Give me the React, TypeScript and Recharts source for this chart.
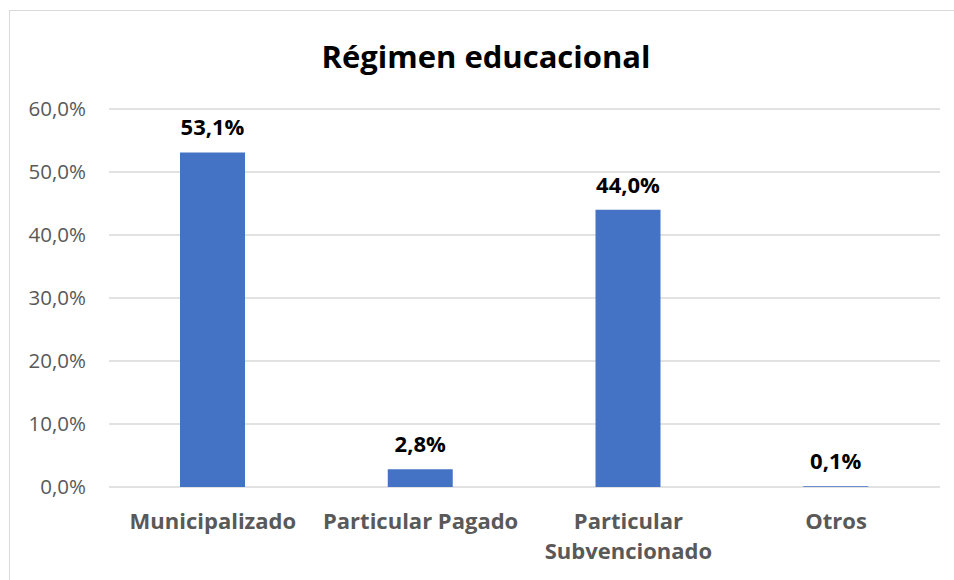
import { BarChart, Bar, XAxis, YAxis, CartesianGrid, LabelList } from "recharts";

const categories = ["Municipalizado", "Particular Pagado", "Particular Subvencionado", "Otros"];
const shares = [0.531, 0.028, 0.44, 0.001];
const yTicks = [0, 0.1, 0.2, 0.3, 0.4, 0.5, 0.6];

const data = categories.map((name, i) => ({ name, value: shares[i] }));

const FONT = "'Open Sans', Lato, sans-serif";

const pct = (v: number) => (v * 100).toFixed(1).replace(".", ",") + "%";

// greedy wrap on word boundaries, like Excel does for long category names
const wrap = (s: string, maxChars = 18) => {
	const lines: string[] = [];
	let cur = "";
	for (const w of s.split(" ")) {
		const next = cur ? cur + " " + w : w;
		if (next.length > maxChars && cur) {
			lines.push(cur);
			cur = w;
		} else {
			cur = next;
		}
	}
	if (cur) lines.push(cur);
	return lines;
};

const CategoryTick = (props: any) => {
	const { x, y, payload } = props;
	const lines = wrap(String(payload.value));
	return (
		<text
			x={x}
			y={y + 34}
			textAnchor="middle"
			fill="#595959"
			fontFamily={FONT}
			fontWeight="bold"
			fontSize={22}
		>
			{lines.map((l, i) => (
				<tspan key={i} x={x} dy={i === 0 ? 0 : 30}>
					{l}
				</tspan>
			))}
		</text>
	);
};

export default function App() {
	return (
		<div
			style={{
				position: "absolute",
				left: 0,
				top: 0,
				width: 954,
				height: 580,
				background: "#fff",
				overflow: "hidden",
			}}
		>
			<div
				style={{
					position: "absolute",
					left: 9,
					top: 10,
					width: 980,
					height: 620,
					borderLeft: "1.5px solid #d9d9d9",
					borderTop: "1.5px solid #d9d9d9",
				}}
			/>
			<div
				style={{
					position: "absolute",
					left: 18,
					top: 36,
					width: 936,
					textAlign: "center",
					fontFamily: FONT,
					fontWeight: "bold",
					fontSize: 31,
					lineHeight: "40px",
					color: "#000",
				}}
			>
				Régimen educacional
			</div>
			<div style={{ position: "absolute", left: 0, top: 0 }}>
				<BarChart
					width={954}
					height={580}
					data={data}
					margin={{ top: 109, right: 14, left: 9, bottom: 0 }}
				>
					<CartesianGrid vertical={false} stroke="#d9d9d9" strokeWidth={1.3} />
					<XAxis
						dataKey="name"
						axisLine={false}
						tickLine={false}
						height={93}
						interval={0}
						tick={<CategoryTick />}
					/>
					<YAxis
						domain={[0, 0.6]}
						ticks={yTicks}
						width={100}
						axisLine={false}
						tickLine={false}
						tickSize={0}
						tickMargin={23}
						tickFormatter={pct}
						tick={{ fill: "#595959", fontSize: 20.5, fontFamily: FONT }}
					/>
					<Bar dataKey="value" fill="#4472c4" barSize={65} isAnimationActive={false}>
						<LabelList
							dataKey="value"
							position="top"
							offset={17}
							formatter={(v: any) => pct(Number(v))}
							fill="#000"
							fontSize={22}
							fontWeight="bold"
							fontFamily={FONT}
						/>
					</Bar>
				</BarChart>
			</div>
		</div>
	);
}
